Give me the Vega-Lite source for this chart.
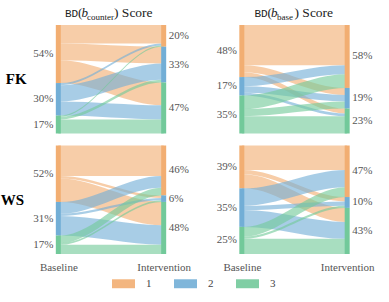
{
  "$schema": "https://vega.github.io/schema/vega-lite/v6.json",
  "padding": {"left": 0, "top": 6, "right": 5, "bottom": 5},
  "background": "white",
  "config": {"view": {"stroke": null}, "font": "Liberation Serif"},
  "data": {"values": [
    {"k":"f","r":"FK","c":"counter","s":"1","t":"1","v":17,"x":[0,2,98,100]},
    {"k":"f","r":"FK","c":"counter","s":"1","t":"2","v":15.5,"x":[0,2,98,100]},
    {"k":"f","r":"FK","c":"counter","s":"1","t":"3","v":21,"x":[0,2,98,100]},
    {"k":"f","r":"FK","c":"counter","s":"2","t":"1","v":2,"x":[0,2,98,100]},
    {"k":"f","r":"FK","c":"counter","s":"2","t":"2","v":15,"x":[0,2,98,100]},
    {"k":"f","r":"FK","c":"counter","s":"2","t":"3","v":13,"x":[0,2,98,100]},
    {"k":"f","r":"FK","c":"counter","s":"3","t":"1","v":1,"x":[0,2,98,100]},
    {"k":"f","r":"FK","c":"counter","s":"3","t":"2","v":2.5,"x":[0,2,98,100]},
    {"k":"f","r":"FK","c":"counter","s":"3","t":"3","v":13,"x":[0,2,98,100]},
    {"k":"f","r":"FK","c":"base","s":"1","t":"1","v":37,"x":[0,2,98,100]},
    {"k":"f","r":"FK","c":"base","s":"1","t":"2","v":6.5,"x":[0,2,98,100]},
    {"k":"f","r":"FK","c":"base","s":"1","t":"3","v":4.5,"x":[0,2,98,100]},
    {"k":"f","r":"FK","c":"base","s":"2","t":"1","v":8.5,"x":[0,2,98,100]},
    {"k":"f","r":"FK","c":"base","s":"2","t":"2","v":6,"x":[0,2,98,100]},
    {"k":"f","r":"FK","c":"base","s":"2","t":"3","v":2.5,"x":[0,2,98,100]},
    {"k":"f","r":"FK","c":"base","s":"3","t":"1","v":12.5,"x":[0,2,98,100]},
    {"k":"f","r":"FK","c":"base","s":"3","t":"2","v":6.5,"x":[0,2,98,100]},
    {"k":"f","r":"FK","c":"base","s":"3","t":"3","v":16,"x":[0,2,98,100]},
    {"k":"f","r":"WS","c":"counter","s":"1","t":"1","v":28,"x":[0,2,98,100]},
    {"k":"f","r":"WS","c":"counter","s":"1","t":"2","v":2.5,"x":[0,2,98,100]},
    {"k":"f","r":"WS","c":"counter","s":"1","t":"3","v":21.5,"x":[0,2,98,100]},
    {"k":"f","r":"WS","c":"counter","s":"2","t":"1","v":11,"x":[0,2,98,100]},
    {"k":"f","r":"WS","c":"counter","s":"2","t":"2","v":2,"x":[0,2,98,100]},
    {"k":"f","r":"WS","c":"counter","s":"2","t":"3","v":18,"x":[0,2,98,100]},
    {"k":"f","r":"WS","c":"counter","s":"3","t":"1","v":7,"x":[0,2,98,100]},
    {"k":"f","r":"WS","c":"counter","s":"3","t":"2","v":1.5,"x":[0,2,98,100]},
    {"k":"f","r":"WS","c":"counter","s":"3","t":"3","v":8.5,"x":[0,2,98,100]},
    {"k":"f","r":"WS","c":"base","s":"1","t":"1","v":22.5,"x":[0,2,98,100]},
    {"k":"f","r":"WS","c":"base","s":"1","t":"2","v":4,"x":[0,2,98,100]},
    {"k":"f","r":"WS","c":"base","s":"1","t":"3","v":13,"x":[0,2,98,100]},
    {"k":"f","r":"WS","c":"base","s":"2","t":"1","v":16,"x":[0,2,98,100]},
    {"k":"f","r":"WS","c":"base","s":"2","t":"2","v":4,"x":[0,2,98,100]},
    {"k":"f","r":"WS","c":"base","s":"2","t":"3","v":15.5,"x":[0,2,98,100]},
    {"k":"f","r":"WS","c":"base","s":"3","t":"1","v":9,"x":[0,2,98,100]},
    {"k":"f","r":"WS","c":"base","s":"3","t":"2","v":2,"x":[0,2,98,100]},
    {"k":"f","r":"WS","c":"base","s":"3","t":"3","v":14,"x":[0,2,98,100]},
    {"k":"n","r":"FK","c":"counter","x":0,"g":"1","v":53.5,"p":0.54},
    {"k":"n","r":"FK","c":"counter","x":0,"g":"2","v":30,"p":0.30},
    {"k":"n","r":"FK","c":"counter","x":0,"g":"3","v":16.5,"p":0.17},
    {"k":"n","r":"FK","c":"counter","x":100,"g":"1","v":20,"p":0.20},
    {"k":"n","r":"FK","c":"counter","x":100,"g":"2","v":33,"p":0.33},
    {"k":"n","r":"FK","c":"counter","x":100,"g":"3","v":47,"p":0.47},
    {"k":"n","r":"FK","c":"base","x":0,"g":"1","v":48,"p":0.48},
    {"k":"n","r":"FK","c":"base","x":0,"g":"2","v":17,"p":0.17},
    {"k":"n","r":"FK","c":"base","x":0,"g":"3","v":35,"p":0.35},
    {"k":"n","r":"FK","c":"base","x":100,"g":"1","v":58,"p":0.58},
    {"k":"n","r":"FK","c":"base","x":100,"g":"2","v":19,"p":0.19},
    {"k":"n","r":"FK","c":"base","x":100,"g":"3","v":23,"p":0.23},
    {"k":"n","r":"WS","c":"counter","x":0,"g":"1","v":52,"p":0.52},
    {"k":"n","r":"WS","c":"counter","x":0,"g":"2","v":31,"p":0.31},
    {"k":"n","r":"WS","c":"counter","x":0,"g":"3","v":17,"p":0.17},
    {"k":"n","r":"WS","c":"counter","x":100,"g":"1","v":46,"p":0.46},
    {"k":"n","r":"WS","c":"counter","x":100,"g":"2","v":6,"p":0.06},
    {"k":"n","r":"WS","c":"counter","x":100,"g":"3","v":48,"p":0.48},
    {"k":"n","r":"WS","c":"base","x":0,"g":"1","v":39.5,"p":0.39},
    {"k":"n","r":"WS","c":"base","x":0,"g":"2","v":35.5,"p":0.35},
    {"k":"n","r":"WS","c":"base","x":0,"g":"3","v":25,"p":0.25},
    {"k":"n","r":"WS","c":"base","x":100,"g":"1","v":47.5,"p":0.47},
    {"k":"n","r":"WS","c":"base","x":100,"g":"2","v":10,"p":0.10},
    {"k":"n","r":"WS","c":"base","x":100,"g":"3","v":42.5,"p":0.43}
  ]},
  "facet": {
    "row": {"field": "r", "type": "nominal", "sort": ["FK", "WS"], "title": null,
      "header": {"labelAngle": 0, "labelOrient": "left", "labelAlign": "right", "labelFont": "Liberation Serif", "labelFontWeight": "bold", "labelFontSize": 15, "labelColor": "#000", "labelPadding": 3.5, "labelBaseline": "middle"}},
    "column": {"field": "c", "type": "nominal", "sort": ["counter", "base"], "title": null,
      "header": {"labels": false}}
  },
  "spacing": {"row": 11.5, "column": 63.5},
  "bounds": "flush",
  "spec": {
    "width": 120,
    "height": 108.5,
    "layer": [
      {
        "transform": [
          {"filter": "datum.k == 'f'"},
          {"flatten": ["x"]},
          {"stack": "v", "groupby": ["r", "c", "x"], "sort": [{"field": "s"}, {"field": "t"}], "as": ["a0", "a1"]},
          {"stack": "v", "groupby": ["r", "c", "x"], "sort": [{"field": "t"}, {"field": "s"}], "as": ["b0", "b1"]},
          {"fold": ["a0", "b0"], "as": ["k0", "lo"]},
          {"fold": ["a1", "b1"], "as": ["k1", "hi"]},
          {"filter": "(datum.x < 50 && datum.k0 == 'a0' && datum.k1 == 'a1') || (datum.x > 50 && datum.k0 == 'b0' && datum.k1 == 'b1')"}
        ],
        "mark": {"type": "area", "interpolate": "monotone", "opacity": 0.62},
        "encoding": {
          "x": {"field": "x", "type": "quantitative", "scale": {"domain": [-2.2, 102.2], "nice": false, "zero": false},
            "axis": {"values": [0, 100], "labelExpr": "datum.value == 0 ? 'Baseline' : 'Intervention'", "domain": false, "ticks": false, "grid": false, "title": null,
              "labelFont": "Liberation Serif", "labelFontSize": 11, "labelColor": "#555", "labelPadding": 7, "labelFlush": false, "labelOverlap": false}},
          "y": {"field": "lo", "type": "quantitative", "stack": null, "scale": {"domain": [0, 100], "reverse": true, "nice": false, "zero": false}, "axis": null},
          "y2": {"field": "hi"},
          "color": {"field": "s", "type": "nominal",
            "scale": {"domain": ["1", "2", "3"], "range": ["#F2AE72", "#72AED6", "#72C99A"]},
            "legend": {"title": null, "orient": "none", "legendX": 61, "legendY": 247, "direction": "horizontal",
              "symbolType": "M-1,-0.39H1V0.39H-1Z", "symbolSize": 529, "symbolOpacity": 0.9, "symbolStrokeWidth": 0,
              "labelFont": "Liberation Serif", "labelFontSize": 11, "labelOffset": 11, "columnPadding": 22, "labelColor": "#444"}},
          "detail": {"field": "t"}
        }
      },
      {
        "transform": [
          {"filter": "datum.k == 'n'"},
          {"stack": "v", "groupby": ["r", "c", "x"], "sort": [{"field": "g"}], "as": ["n0", "n1"]}
        ],
        "mark": {"type": "bar", "width": 5},
        "encoding": {
          "x": {"field": "x", "type": "quantitative"},
          "y": {"field": "n0", "type": "quantitative"},
          "y2": {"field": "n1"},
          "color": {"field": "g", "type": "nominal"}
        }
      },
      {
        "transform": [
          {"filter": "datum.k == 'n' && datum.x == 0"},
          {"stack": "v", "groupby": ["r", "c", "x"], "sort": [{"field": "g"}], "as": ["n0", "n1"]},
          {"fold": ["n0", "n1"], "as": ["kk", "yy"]},
          {"aggregate": [{"op": "mean", "field": "yy", "as": "ym"}], "groupby": ["r", "c", "x", "g", "p"]}
        ],
        "mark": {"type": "text", "align": "right", "baseline": "middle", "dx": -5, "font": "Liberation Serif", "fontSize": 11, "color": "#555"},
        "encoding": {
          "x": {"field": "x", "type": "quantitative"},
          "y": {"field": "ym", "type": "quantitative"},
          "text": {"field": "p", "type": "quantitative", "format": ".0%"}
        }
      },
      {
        "transform": [
          {"filter": "datum.k == 'n' && datum.x == 100"},
          {"stack": "v", "groupby": ["r", "c", "x"], "sort": [{"field": "g"}], "as": ["n0", "n1"]},
          {"fold": ["n0", "n1"], "as": ["kk", "yy"]},
          {"aggregate": [{"op": "mean", "field": "yy", "as": "ym"}], "groupby": ["r", "c", "x", "g", "p"]}
        ],
        "mark": {"type": "text", "align": "left", "baseline": "middle", "dx": 5, "font": "Liberation Serif", "fontSize": 11, "color": "#555"},
        "encoding": {
          "x": {"field": "x", "type": "quantitative"},
          "y": {"field": "ym", "type": "quantitative"},
          "text": {"field": "p", "type": "quantitative", "format": ".0%"}
        }
      },
      {
        "transform": [{"filter": "datum.k == 'n' && datum.r == 'FK' && datum.c == 'counter' && datum.x == 0 && datum.g == '1'"}],
        "mark": {"type": "text", "text": "BD", "font": "Liberation Mono", "fontSize": 11, "align": "left", "baseline": "alphabetic", "dx": -46, "dy": -8, "color": "#222"},
        "encoding": {"x": {"datum": 50}, "y": {"datum": 0}}
      },
      {
        "transform": [{"filter": "datum.k == 'n' && datum.r == 'FK' && datum.c == 'counter' && datum.x == 0 && datum.g == '1'"}],
        "mark": {"type": "text", "text": "(", "font": "Liberation Serif", "fontSize": 13, "align": "left", "baseline": "alphabetic", "dx": -33, "dy": -8, "color": "#222"},
        "encoding": {"x": {"datum": 50}, "y": {"datum": 0}}
      },
      {
        "transform": [{"filter": "datum.k == 'n' && datum.r == 'FK' && datum.c == 'counter' && datum.x == 0 && datum.g == '1'"}],
        "mark": {"type": "text", "text": "b", "font": "Liberation Serif", "fontStyle": "italic", "fontSize": 13, "align": "left", "baseline": "alphabetic", "dx": -29.5, "dy": -8, "color": "#222"},
        "encoding": {"x": {"datum": 50}, "y": {"datum": 0}}
      },
      {
        "transform": [{"filter": "datum.k == 'n' && datum.r == 'FK' && datum.c == 'counter' && datum.x == 0 && datum.g == '1'"}],
        "mark": {"type": "text", "text": "counter", "font": "Liberation Serif", "fontSize": 9, "align": "left", "baseline": "alphabetic", "dx": -24, "dy": -5.5, "color": "#222"},
        "encoding": {"x": {"datum": 50}, "y": {"datum": 0}}
      },
      {
        "transform": [{"filter": "datum.k == 'n' && datum.r == 'FK' && datum.c == 'counter' && datum.x == 0 && datum.g == '1'"}],
        "mark": {"type": "text", "text": ") Score", "font": "Liberation Serif", "fontSize": 13.5, "align": "left", "baseline": "alphabetic", "dx": 3, "dy": -8, "color": "#222"},
        "encoding": {"x": {"datum": 50}, "y": {"datum": 0}}
      },
      {
        "transform": [{"filter": "datum.k == 'n' && datum.r == 'FK' && datum.c == 'base' && datum.x == 0 && datum.g == '1'"}],
        "mark": {"type": "text", "text": "BD", "font": "Liberation Mono", "fontSize": 11, "align": "left", "baseline": "alphabetic", "dx": -40, "dy": -8, "color": "#222"},
        "encoding": {"x": {"datum": 50}, "y": {"datum": 0}}
      },
      {
        "transform": [{"filter": "datum.k == 'n' && datum.r == 'FK' && datum.c == 'base' && datum.x == 0 && datum.g == '1'"}],
        "mark": {"type": "text", "text": "(", "font": "Liberation Serif", "fontSize": 13, "align": "left", "baseline": "alphabetic", "dx": -27, "dy": -8, "color": "#222"},
        "encoding": {"x": {"datum": 50}, "y": {"datum": 0}}
      },
      {
        "transform": [{"filter": "datum.k == 'n' && datum.r == 'FK' && datum.c == 'base' && datum.x == 0 && datum.g == '1'"}],
        "mark": {"type": "text", "text": "b", "font": "Liberation Serif", "fontStyle": "italic", "fontSize": 13, "align": "left", "baseline": "alphabetic", "dx": -23.5, "dy": -8, "color": "#222"},
        "encoding": {"x": {"datum": 50}, "y": {"datum": 0}}
      },
      {
        "transform": [{"filter": "datum.k == 'n' && datum.r == 'FK' && datum.c == 'base' && datum.x == 0 && datum.g == '1'"}],
        "mark": {"type": "text", "text": "base", "font": "Liberation Serif", "fontSize": 9, "align": "left", "baseline": "alphabetic", "dx": -17.5, "dy": -5.5, "color": "#222"},
        "encoding": {"x": {"datum": 50}, "y": {"datum": 0}}
      },
      {
        "transform": [{"filter": "datum.k == 'n' && datum.r == 'FK' && datum.c == 'base' && datum.x == 0 && datum.g == '1'"}],
        "mark": {"type": "text", "text": ") Score", "font": "Liberation Serif", "fontSize": 13.5, "align": "left", "baseline": "alphabetic", "dx": 0, "dy": -8, "color": "#222"},
        "encoding": {"x": {"datum": 50}, "y": {"datum": 0}}
      }
    ]
  }
}
